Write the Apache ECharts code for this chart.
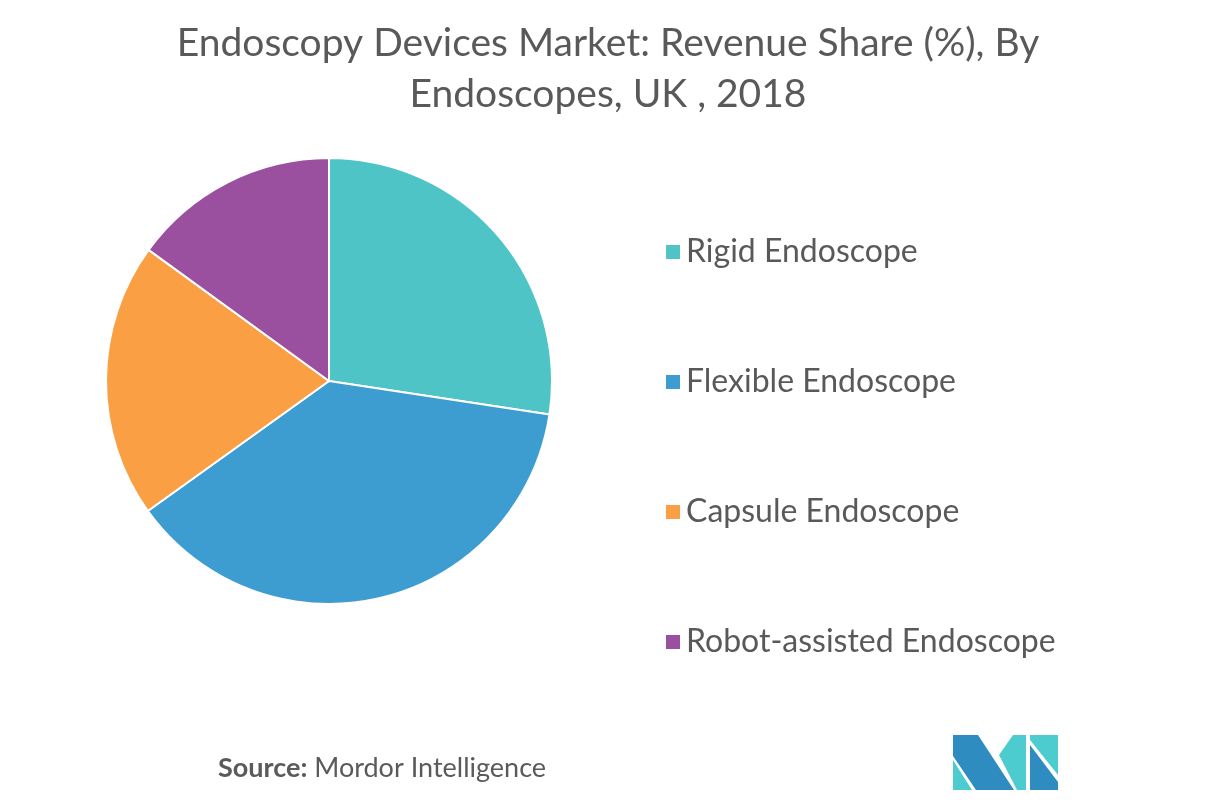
<!DOCTYPE html>
<html><head><meta charset="utf-8">
<script src="https://cdn.jsdelivr.net/npm/echarts@6/dist/echarts.min.js"></script>
<style>html,body{margin:0;padding:0;background:#fff}#c{width:1216px;height:804px}</style>
</head><body><div id="c"></div>
<script>
const categories = ["Rigid Endoscope", "Flexible Endoscope", "Capsule Endoscope", "Robot-assisted Endoscope"];
const shares = [27.4, 37.7, 19.9, 15.0];
const colors = ["#4FC4C7", "#3D9DD0", "#FB9F45", "#9A509F"];
const titleText = "Endoscopy Devices Market: Revenue Share (%), By\nEndoscopes, UK , 2018";

const chart = echarts.init(document.getElementById('c'), null, {renderer: 'canvas'});
chart.setOption({
  backgroundColor: '#fff',
  animation: false,
  color: colors,
  title: {
    text: titleText,
    left: 'center', top: 13,
    textStyle: {fontFamily: 'Lato', fontWeight: 'normal', fontSize: 39, color: '#595959', lineHeight: 51}
  },
  legend: {
    orient: 'vertical', left: 659, top: 231,
    icon: 'rect', itemWidth: 16, itemHeight: 16, itemGap: 98,
    textStyle: {fontFamily: 'Lato', fontSize: 32, color: '#595959', lineHeight: 32},
    data: categories
  },
  series: [{
    type: 'pie', center: [329, 381], radius: 223, startAngle: 90,
    label: {show: false}, labelLine: {show: false},
    itemStyle: {borderColor: '#fff', borderWidth: 2},
    emphasis: {disabled: true},
    data: categories.map((c, i) => ({name: c, value: shares[i]}))
  }],
  graphic: [
    {type: 'text', left: 218, top: 755, style: {
      text: '{b|Source:} Mordor Intelligence',
      rich: {b: {fontFamily: 'Lato', fontWeight: 'bold', fontSize: 27, fill: '#5a5a5a'}},
      fontFamily: 'Lato', fontSize: 27, fill: '#5a5a5a'}},
    {type: 'polygon', shape: {points: [[953,760],[953,790],[972,790]]}, style: {fill: '#4DCCCF'}},
    {type: 'polygon', shape: {points: [[953,735],[978,735],[1014,790],[976,790],[953,756]]}, style: {fill: '#2E8CC0'}},
    {type: 'polygon', shape: {points: [[999,755],[1013,735],[1026,735],[1026,790],[1017,790]]}, style: {fill: '#4DCCCF'}},
    {type: 'polygon', shape: {points: [[1030,735],[1058,735],[1058,775],[1030,740]]}, style: {fill: '#4DCCCF'}},
    {type: 'polygon', shape: {points: [[1030,745],[1058,782],[1058,790],[1030,790]]}, style: {fill: '#2E8CC0'}}
  ]
});
</script></body></html>
